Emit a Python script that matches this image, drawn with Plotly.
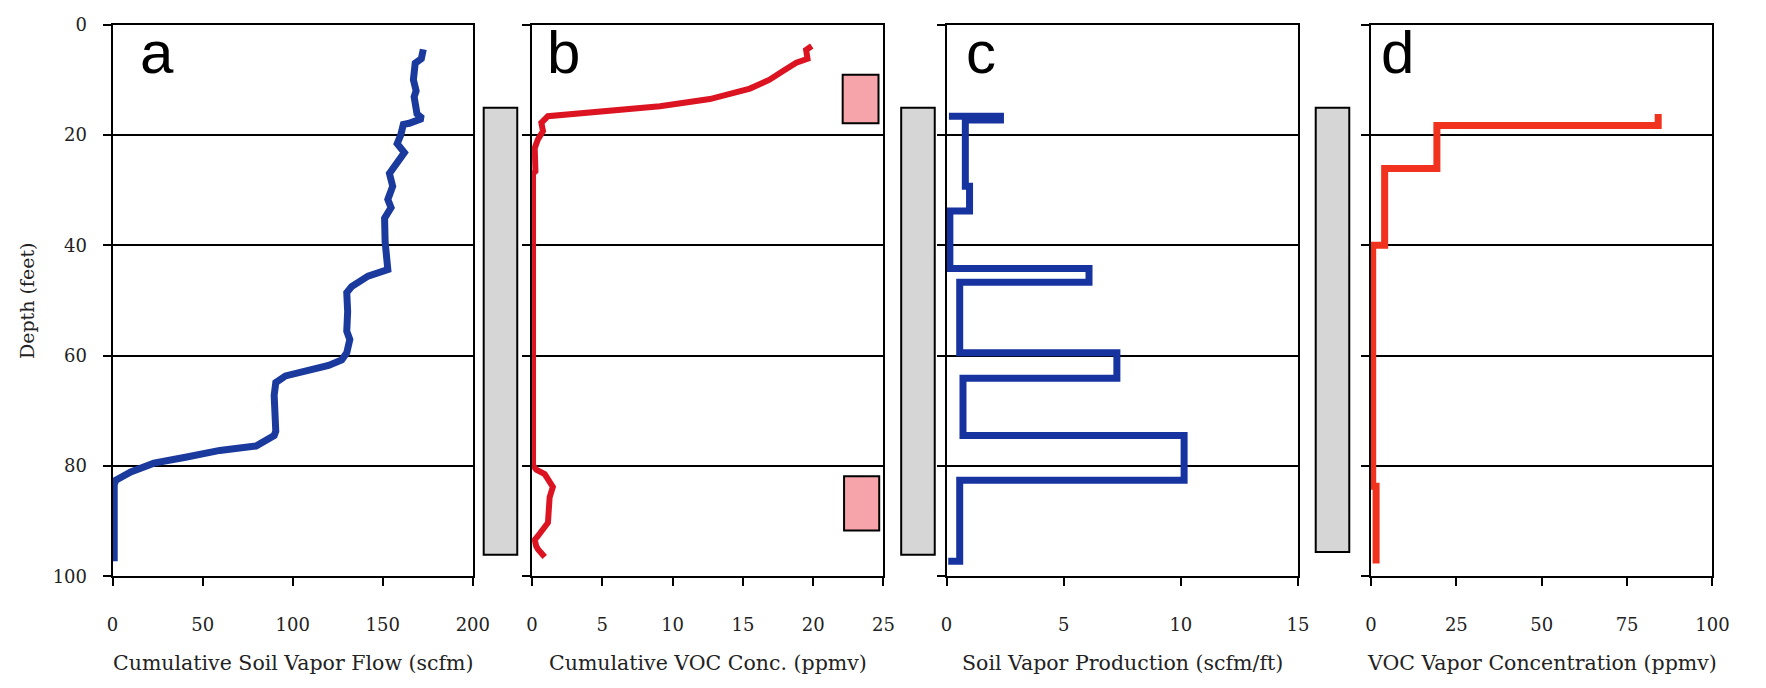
import plotly.graph_objects as go

# ---------------- data ----------------
# Panel a: cumulative soil vapor flow (scfm) vs depth (ft)
flow_scfm = [172.5, 171.4, 168.0, 167.0, 168.5, 167.4, 169.0, 172.0, 164.7, 161.4, 160.0,
             158.0, 162.0, 158.3, 153.7, 155.5, 152.8, 154.6, 151.0, 151.3, 151.8, 152.8,
             141.8, 132.7, 130.0, 130.5, 130.0, 131.7, 130.0, 127.2, 119.9, 110.7, 96.0,
             90.6, 89.7, 90.6, 89.7, 79.6, 59.5, 41.2, 22.9, 10.1, 1.8, 0.9, 0.9]
flow_depth = [4.5, 6.2, 7.0, 10.0, 12.0, 13.1, 16.2, 17.0, 17.9, 18.1, 20.0,
              21.6, 23.2, 25.1, 27.0, 29.3, 31.7, 33.2, 35.1, 39.4, 43.2, 44.4,
              45.6, 47.5, 48.6, 52.0, 55.6, 57.1, 59.5, 60.8, 61.8, 62.5, 63.7,
              64.9, 67.2, 73.7, 74.5, 76.4, 77.2, 78.4, 79.5, 81.1, 82.6, 83.4, 97.3]

# Panel b: cumulative VOC concentration (ppmv) vs depth (ft)
voc_cum_ppmv = [19.9, 19.5, 19.6, 18.8, 17.8, 16.9, 15.5, 12.65, 9.1, 5.6, 2.3, 1.13,
                0.66, 0.78, 0.42, 0.19, 0.24, 0.07, 0.07, 0.3, 0.9, 1.48, 1.25, 1.13,
                0.42, 0.19, 0.3, 0.42, 0.9]
voc_cum_depth = [3.9, 4.6, 6.2, 6.9, 8.5, 10.0, 11.6, 13.5, 14.8, 15.6, 16.2, 16.6,
                 17.8, 19.3, 20.8, 22.4, 26.6, 27.0, 79.9, 80.7, 81.5, 83.8, 85.7, 90.3,
                 92.7, 93.4, 94.6, 95.1, 96.5]

# Panel c: soil vapor production (scfm/ft) step profile
prod_scfm_ft = [0.1, 2.3, 2.3, 0.8, 0.8, 0.98, 0.98, 0.14, 0.14, 6.08, 6.08, 0.56,
                0.56, 7.27, 7.27, 0.70, 0.70, 10.14, 10.14, 0.56, 0.56, 0.07]
prod_depth = [16.6, 16.6, 17.3, 17.3, 29.3, 29.3, 33.8, 33.8, 44.2, 44.2, 46.7, 46.7,
              59.5, 59.5, 64.1, 64.1, 74.5, 74.5, 82.6, 82.6, 97.3, 97.3]

# Panel d: VOC vapor concentration (ppmv) step profile
voc_ppmv = [84.1, 84.1, 19.3, 19.3, 4.0, 4.0, 0.5, 0.5, 1.5, 1.5]
voc_depth = [16.2, 18.3, 18.3, 26.1, 26.1, 40.0, 40.0, 83.7, 83.7, 97.7]

x_ranges = [[0, 200], [0, 25], [0, 15], [0, 100]]
x_dticks = [50, 5, 5, 25]
x_titles = ["Cumulative Soil Vapor Flow (scfm)", "Cumulative VOC Conc. (ppmv)",
            "Soil Vapor Production (scfm/ft)", "VOC Vapor Concentration (ppmv)"]
panel_letters = ["a", "b", "c", "d"]
y_title = "Depth (feet)"
depth_ticks = [0, 20, 40, 60, 80, 100]

# well-screen intervals (depth, ft) and VOC sample boxes (ppmv, depth)
screen_top = [15.1, 15.1, 15.1]
screen_bottom = [96.1, 96.1, 95.6]
sample_x0 = [22.1, 22.2]
sample_x1 = [24.65, 24.7]
sample_top = [9.1, 81.9]
sample_bottom = [17.9, 91.7]

# ---------------- layout geometry (pixels) ----------------
W, H = 1766, 688
px_left = [108, 533, 953, 1383]
px_right = [473, 889, 1309, 1729]
px_top, px_bottom = 14, 583
screen_px = [(484, 518), (907, 941), (1327, 1361)]
letter_px = [134, 546, 971, 1391]

def px2x(p):
    return p / W

def px2y(p):
    return 1 - p / H

series = [
    (flow_scfm, flow_depth, "#1b3a9e", 7),
    (voc_cum_ppmv, voc_cum_depth, "#dc1422", 6),
    (prod_scfm_ft, prod_depth, "#1733a0", 7),
    (voc_ppmv, voc_depth, "#f0321e", 7),
]

fig = go.Figure()
serif = "DejaVu Serif"
ydom = [px2y(px_bottom), px2y(px_top)]

for i in range(4):
    xa = "x" if i == 0 else f"x{i+1}"
    ya = "y" if i == 0 else f"y{i+1}"
    xs, ys, col, lw = series[i]
    fig.add_trace(go.Scatter(x=xs, y=ys, mode="lines", xaxis=xa, yaxis=ya,
                             line=dict(color=col, width=lw), showlegend=False,
                             hoverinfo="skip"))
    axkey = "xaxis" if i == 0 else f"xaxis{i+1}"
    aykey = "yaxis" if i == 0 else f"yaxis{i+1}"
    fig.layout[axkey] = dict(
        domain=[px2x(px_left[i]), px2x(px_right[i])], range=x_ranges[i],
        dtick=x_dticks[i], tick0=0, anchor=ya, showgrid=False, zeroline=False,
        showline=True, mirror=True, linecolor="black", linewidth=2,
        ticks="outside", ticklen=8, tickwidth=2, tickcolor="black",
        tickfont=dict(family=serif, size=18, color="#222"),
        ticklabelstandoff=23, fixedrange=True)
    fig.layout[aykey] = dict(
        domain=ydom, range=[100, 0], tickvals=depth_ticks, anchor=xa,
        showgrid=True, gridcolor="black", gridwidth=2, zeroline=False,
        showline=True, mirror=True, linecolor="black", linewidth=2,
        ticks="outside", ticklen=8, tickwidth=2, tickcolor="black",
        showticklabels=(i == 0),
        tickfont=dict(family=serif, size=18, color="#222"),
        ticklabelstandoff=12, fixedrange=True)
    # x-axis title
    fig.add_annotation(text=x_titles[i], xref="paper", yref="paper",
                       x=px2x((px_left[i] + px_right[i]) / 2), y=px2y(673),
                       xanchor="center", yanchor="middle", showarrow=False,
                       font=dict(family=serif, size=20.5, color="#222"))
    # panel letter
    fig.add_annotation(text=panel_letters[i], xref="paper", yref="paper",
                       x=px2x(letter_px[i]), y=px2y(43), xanchor="left",
                       yanchor="middle", showarrow=False,
                       font=dict(family="Liberation Sans", size=60, color="black"))

fig.add_annotation(text=y_title, xref="paper", yref="paper", x=px2x(22),
                   y=px2y((px_top + px_bottom) / 2), textangle=-90,
                   xanchor="center", yanchor="middle", showarrow=False,
                   font=dict(family=serif, size=19, color="#222"))

# well-screen bars between panels
for (x0, x1), t, b in zip(screen_px, screen_top, screen_bottom):
    fig.add_shape(type="rect", xref="paper", yref="y", x0=px2x(x0), x1=px2x(x1),
                  y0=t, y1=b, fillcolor="#d6d6d6",
                  line=dict(color="black", width=2), layer="above")

# VOC sample boxes in panel b
for x0, x1, t, b in zip(sample_x0, sample_x1, sample_top, sample_bottom):
    fig.add_shape(type="rect", xref="x2", yref="y2", x0=x0, x1=x1, y0=t, y1=b,
                  fillcolor="#f6a4aa", line=dict(color="black", width=2),
                  layer="above")

fig.update_layout(width=W, height=H, margin=dict(l=0, r=0, t=0, b=0),
                  paper_bgcolor="white", plot_bgcolor="white")

fig.write_html("out.html")
